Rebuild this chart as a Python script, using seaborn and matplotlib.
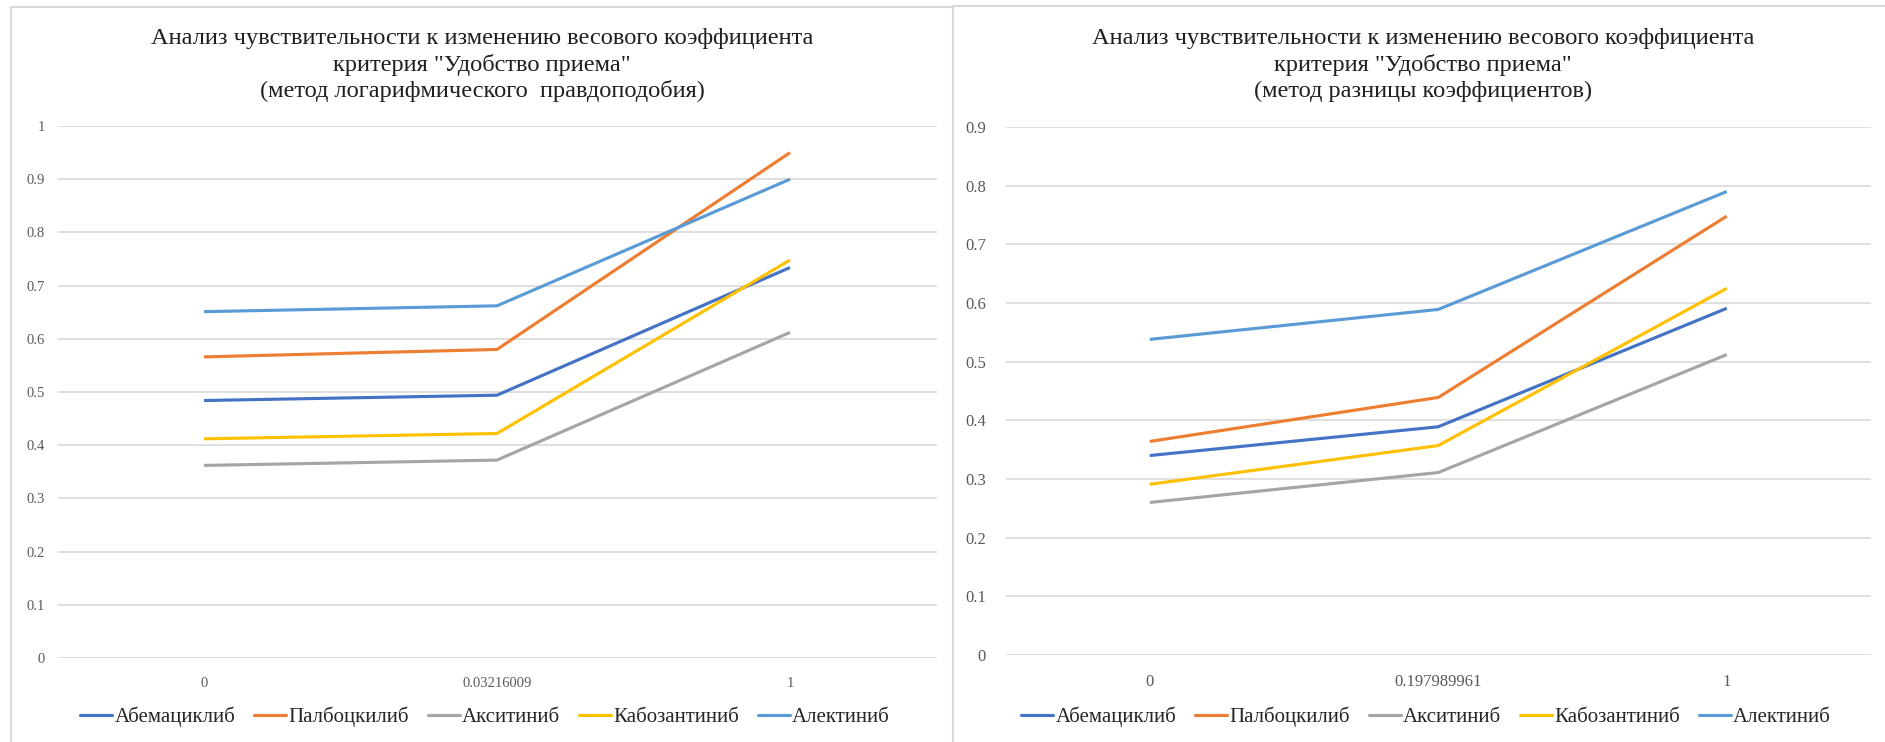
import matplotlib
matplotlib.use("Agg")
import matplotlib.pyplot as plt
import seaborn as sns
import pandas as pd
from matplotlib.patches import Rectangle

# Drugs (series) and their colours
drugs = ["Абемациклиб", "Палбоцкилиб", "Акситиниб", "Кабозантиниб", "Алектиниб"]
colors = ["#4472C4", "#ED7D31", "#A5A5A5", "#FFC000", "#5B9BD5"]

# Left chart: log-likelihood method
left_x = ["0", "0.03216009", "1"]
left_abema = [0.484, 0.494, 0.734]
left_palbo = [0.566, 0.580, 0.950]
left_axi = [0.362, 0.372, 0.612]
left_cabo = [0.412, 0.422, 0.748]
left_alec = [0.651, 0.662, 0.900]
left_title = ("Анализ чувствительности к изменению весового коэффициента\n"
              "критерия \"Удобство приема\"\n"
              "(метод логарифмического  правдоподобия)")

# Right chart: coefficient difference method
right_x = ["0", "0.197989961", "1"]
right_abema = [0.340, 0.389, 0.591]
right_palbo = [0.364, 0.439, 0.748]
right_axi = [0.260, 0.311, 0.512]
right_cabo = [0.291, 0.357, 0.625]
right_alec = [0.538, 0.589, 0.790]
right_title = ("Анализ чувствительности к изменению весового коэффициента\n"
               "критерия \"Удобство приема\"\n"
               "(метод разницы коэффициентов)")


def long_table(xs, series):
    rows = []
    for name, vals in zip(drugs, series):
        for i, (lab, v) in enumerate(zip(xs, vals)):
            rows.append({"pos": i, "label": lab, "drug": name, "value": v})
    return pd.DataFrame(rows)


left_df = long_table(left_x, [left_abema, left_palbo, left_axi, left_cabo, left_alec])
right_df = long_table(right_x, [right_abema, right_palbo, right_axi, right_cabo, right_alec])

sns.set_theme(style="white")
plt.rcParams["font.family"] = ["Liberation Serif", "DejaVu Serif"]

W, H = 1885, 742
fig = plt.figure(figsize=(W / 100, H / 100), dpi=100)
fig.patch.set_facecolor("white")


def fx(px):
    return px / W


def fy(py):
    return 1 - py / H


def draw_panel(df, xs, ymax, rect, title, title_cx, tick_size, ytick_pad, legend_cx):
    left, top, right, bottom = rect
    ax = fig.add_axes([fx(left), fy(bottom), fx(right - left), fy(top) - fy(bottom)])
    sns.lineplot(data=df, x="pos", y="value", hue="drug", hue_order=drugs,
                 palette=colors, linewidth=2.25, ax=ax, legend=False,
                 estimator=None, sort=False)
    for ln in ax.lines:
        ln.set_clip_on(False)
        ln.set_solid_capstyle("butt")
    ax.set_xlim(-0.5, len(xs) - 0.5)
    ax.set_ylim(0, ymax)
    ticks = [round(i * 0.1, 1) for i in range(int(round(ymax * 10)) + 1)]
    ax.set_yticks(ticks)
    ax.set_yticklabels([f"{t:g}" for t in ticks])
    ax.set_xticks(range(len(xs)))
    ax.set_xticklabels(xs)
    ax.set_xlabel("")
    ax.set_ylabel("")
    for s in ax.spines.values():
        s.set_visible(False)
    ax.grid(axis="y", color="#D9D9D9", linewidth=1.2)
    ax.grid(axis="x", visible=False)
    ax.set_axisbelow(True)
    ax.tick_params(axis="both", length=0, labelsize=tick_size, labelcolor="#595959")
    ax.tick_params(axis="y", pad=ytick_pad)
    ax.tick_params(axis="x", pad=14)
    fig.text(fx(title_cx), fy(65), title, ha="center", va="center",
             fontsize=17.6, color="#1f1f1f", linespacing=1.27)
    handles = [plt.Line2D([], [], color=c, linewidth=2.25) for c in colors]
    fig.legend(handles, drugs, loc="center", bbox_to_anchor=(fx(legend_cx), fy(717)),
               ncol=5, frameon=False, fontsize=15, handlelength=1.55,
               handletextpad=0.1, columnspacing=0.9, labelcolor="#262626")
    return ax


draw_panel(left_df, left_x, 1.0, (57.5, 126, 936.5, 658), left_title, 482, 10.5, 9, 485)
draw_panel(right_df, right_x, 0.9, (1005.5, 127, 1871, 655), right_title, 1423, 12, 14, 1426)

# Panel frames
fig.add_artist(Rectangle((fx(11), fy(760)), fx(953 - 11), fy(7) - fy(760),
                         transform=fig.transFigure, fill=False,
                         edgecolor="#D9D9D9", linewidth=1.5))
fig.add_artist(Rectangle((fx(953), fy(760)), fx(960), fy(6) - fy(760),
                         transform=fig.transFigure, fill=False,
                         edgecolor="#D9D9D9", linewidth=1.5))

fig.savefig("out.png", dpi=100, facecolor="white")
